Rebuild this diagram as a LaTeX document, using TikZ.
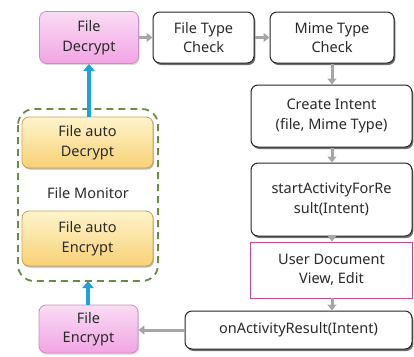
\documentclass[tikz,border=0pt]{standalone}
\usepackage{fontspec}
\setmainfont{Noto Sans}
\usetikzlibrary{shadows,arrows.meta,positioning}

\definecolor{pinkTop}{HTML}{FADCF4}
\definecolor{pinkBot}{HTML}{F2A4E4}
\definecolor{pinkLine}{HTML}{C98DC0}
\definecolor{yelTop}{HTML}{FFF4CC}
\definecolor{yelBot}{HTML}{F8D175}
\definecolor{yelLine}{HTML}{C9A24E}
\definecolor{flowGray}{HTML}{A6A6A6}
\definecolor{flowBlue}{HTML}{1BA3DA}
\definecolor{monGreen}{HTML}{6B8C42}
\definecolor{userLine}{HTML}{C8468E}
\definecolor{txt}{HTML}{2A2A2A}

\tikzset{
  every node/.style={font=\fontsize{14.5}{19.5}\selectfont, text=txt, align=center, inner sep=0pt},
  softshadow/.style={drop shadow={shadow xshift=1.3pt, shadow yshift=-2pt, opacity=0.7, fill=black!80}},
  whitebox/.style={draw=black!85, line width=1pt, fill=white, rounded corners=7pt, softshadow},
  pinkbox/.style={draw=pinkLine, line width=0.8pt, top color=pinkTop, bottom color=pinkBot, rounded corners=7pt,
    drop shadow={shadow xshift=1pt, shadow yshift=-1.5pt, opacity=0.3, fill=black!50}},
  yelbox/.style={draw=yelLine, line width=0.8pt, top color=yelTop, bottom color=yelBot, rounded corners=7pt,
    drop shadow={shadow xshift=1pt, shadow yshift=-1.5pt, opacity=0.45, fill=black!60}},
  userbox/.style={draw=userLine, line width=0.9pt, fill=white},
  grayflow/.style={draw=flowGray, line width=3pt, -{Triangle[length=6pt, width=9pt]}},
  blueflow/.style={draw=flowBlue, line width=3.5pt, -{Triangle[length=7pt, width=11pt]}},
  monitor/.style={draw=monGreen, line width=1.8pt, dash pattern=on 7pt off 5pt, rounded corners=16pt},
}

\begin{document}
\begin{tikzpicture}[x=1pt, y=-1pt]
  \useasboundingbox (0,0) rectangle (414,356);

  % file monitor group
  \draw[monitor] (18,109) rectangle (158,281);
  \node (ad) [yelbox, minimum width=131pt, minimum height=51pt] at (87.5,142.5) {File auto\\Decrypt};
  \node (mon) at (88,193) {File Monitor};
  \node (ae) [yelbox, minimum width=131pt, minimum height=55pt] at (87.5,238.5) {File auto\\Encrypt};
  \coordinate (monbot) at (88,281);

  % top row
  \node (dec) [pinkbox, minimum width=99pt, minimum height=52pt] at (89,37.5) {File\\Decrypt};
  \node (ftc) [whitebox, minimum width=101pt, minimum height=51pt] at (203.5,37.5) {File Type\\Check};
  \node (mtc) [whitebox, minimum width=124pt, minimum height=51pt] at (332,37.5) {Mime Type\\Check};

  % right column
  \node (ci) [whitebox, minimum width=161pt, minimum height=62pt] at (331.5,116) {Create Intent\\(file, Mime Type)};
  \node (sa) [whitebox, minimum width=161pt, minimum height=73pt] at (331.5,199.5) {startActivityForRe\\sult(Intent)};
  \node (ud) [userbox, minimum width=162pt, minimum height=56pt] at (331.5,270) {User Document\\View, Edit};
  \node (oar) [whitebox, minimum width=227pt, minimum height=38pt] at (298.5,330) {onActivityResult(Intent)};

  % bottom left
  \node (enc) [pinkbox, minimum width=99pt, minimum height=48pt] at (88.5,329) {File\\Encrypt};

  % gray flow arrows
  \draw[grayflow] (dec.east) -- (ftc.west);
  \draw[grayflow] (ftc.east) -- (mtc.west);
  \draw[grayflow] (mtc.south) -- (ci.north -| mtc.south);
  \draw[grayflow] (ci.south -| mtc.south) -- (sa.north -| mtc.south);
  \draw[grayflow] (sa.south -| mtc.south) -- (ud.north -| mtc.south);
  \draw[grayflow] (ud.south -| mtc.south) -- (oar.north -| mtc.south);
  \draw[grayflow] (oar.west) -- (enc.east |- oar.west);

  % blue arrows
  \draw[blueflow] (ad.north -| dec.south) -- (dec.south);
  \draw[blueflow] (enc.north -| monbot) -- (monbot);
\end{tikzpicture}
\end{document}
